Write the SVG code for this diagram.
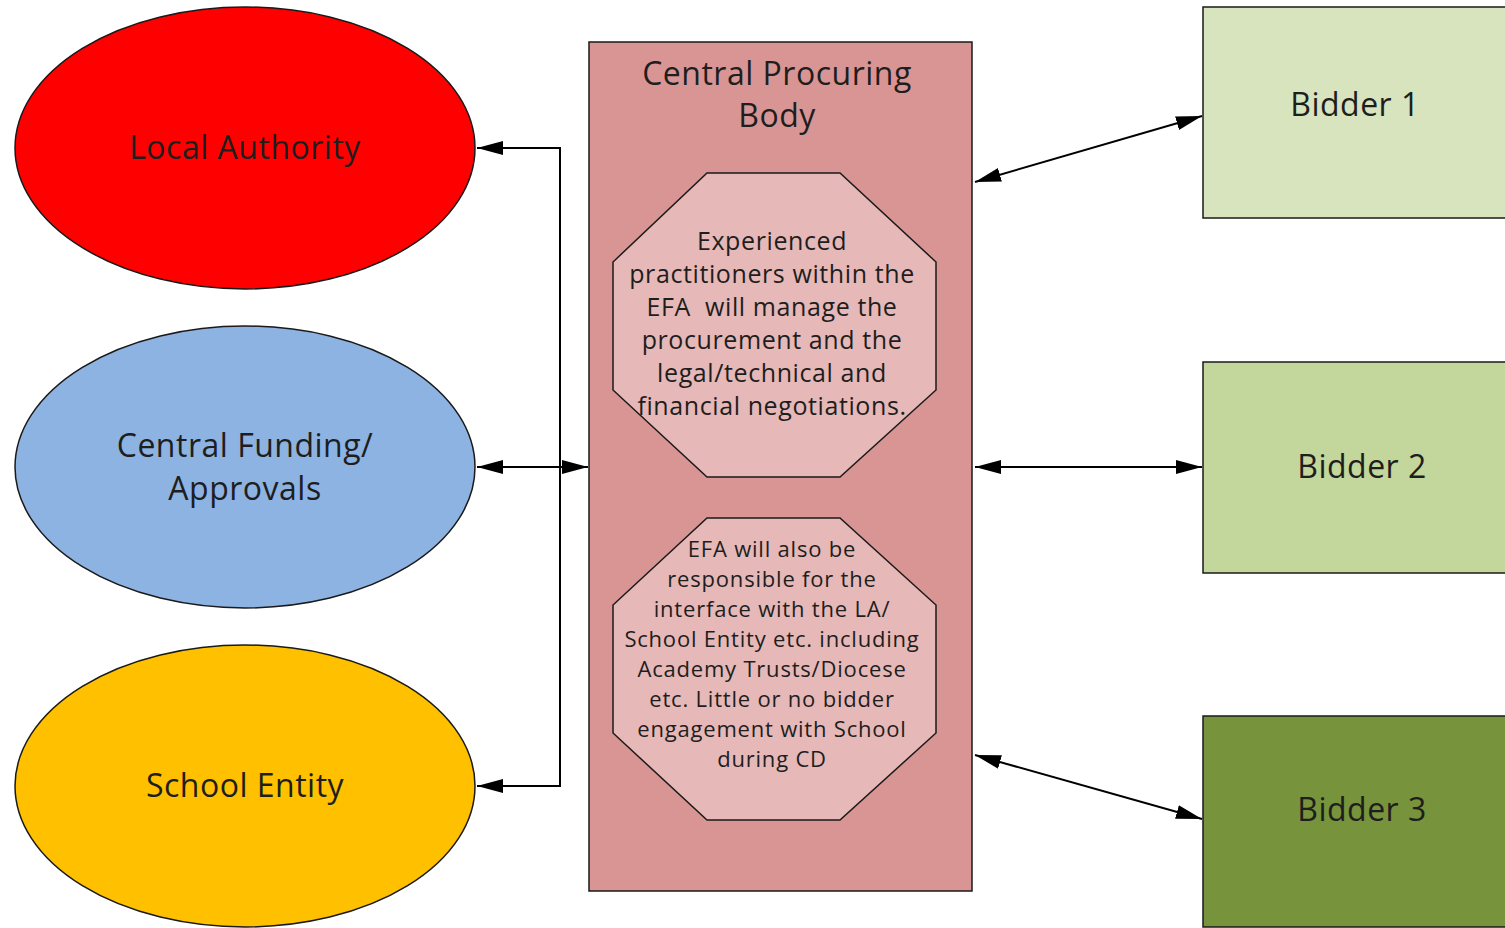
<svg xmlns="http://www.w3.org/2000/svg" width="1505" height="928" viewBox="0 0 1505 928">
<defs>
<marker id="ah" viewBox="0 0 10 10" refX="10" refY="5" markerWidth="26" markerHeight="14" markerUnits="userSpaceOnUse" orient="auto-start-reverse" preserveAspectRatio="none">
<path d="M0,0 L10,5 L0,10 Z" fill="#000"/>
</marker>
<style>
.t{font-family:"Open Sans","Liberation Sans",sans-serif;fill:#1e1e1e;text-anchor:middle}
.big{font-size:32px;letter-spacing:0.5px}
.o1{font-size:25px;letter-spacing:0.6px}
.o2{font-size:22px;letter-spacing:0.8px}
.sh{stroke:#1a1a1a;stroke-width:1.5}
.c{fill:none;stroke:#000;stroke-width:2}
</style>
</defs>
<rect width="1505" height="928" fill="#fff"/>
<g id="local-authority">
<ellipse class="sh" cx="245" cy="148" rx="230" ry="141" fill="#FF0000"/>
<text class="t big" x="245" y="159">Local Authority</text>
</g>
<g id="central-funding">
<ellipse class="sh" cx="245" cy="467" rx="230" ry="141" fill="#8DB3E2"/>
<text class="t big" x="245" y="457">Central Funding/</text>
<text class="t big" x="245" y="500">Approvals</text>
</g>
<g id="school-entity">
<ellipse class="sh" cx="245" cy="786" rx="230" ry="141" fill="#FFC000"/>
<text class="t big" x="245" y="797">School Entity</text>
</g>
<g id="central-procuring-body">
<rect class="sh" x="589" y="42" width="383" height="849" fill="#D99594"/>
<text class="t big" x="777" y="85">Central Procuring</text>
<text class="t big" x="777" y="127">Body</text>
</g>
<g id="octagon-1">
<polygon class="sh" points="707,173 840,173 936,262 936,390 840,477 707,477 613,390 613,262" fill="#E6B8B7"/>
<text class="t o1" x="772" y="250">Experienced</text>
<text class="t o1" x="772" y="283">practitioners within the</text>
<text class="t o1" x="772" y="316">EFA&#160; will manage the</text>
<text class="t o1" x="772" y="349">procurement and the</text>
<text class="t o1" x="772" y="382">legal/technical and</text>
<text class="t o1" x="772" y="415">financial negotiations.</text>
</g>
<g id="octagon-2">
<polygon class="sh" points="707,518 840,518 936,605 936,733 840,820 707,820 613,733 613,605" fill="#E6B8B7"/>
<text class="t o2" x="772" y="557">EFA will also be</text>
<text class="t o2" x="772" y="587">responsible for the</text>
<text class="t o2" x="772" y="617">interface with the LA/</text>
<text class="t o2" x="772" y="647">School Entity etc. including</text>
<text class="t o2" x="772" y="677">Academy Trusts/Diocese</text>
<text class="t o2" x="772" y="707">etc. Little or no bidder</text>
<text class="t o2" x="772" y="737">engagement with School</text>
<text class="t o2" x="772" y="767">during CD</text>
</g>
<g id="bidder-1">
<rect class="sh" x="1203" y="7" width="310" height="211" fill="#D7E4BD"/>
<text class="t big" x="1355" y="116">Bidder 1</text>
</g>
<g id="bidder-2">
<rect class="sh" x="1203" y="362" width="310" height="211" fill="#C3D69B"/>
<text class="t big" x="1362" y="478">Bidder 2</text>
</g>
<g id="bidder-3">
<rect class="sh" x="1203" y="716" width="310" height="211" fill="#77933C"/>
<text class="t big" x="1362" y="821">Bidder 3</text>
</g>
<g id="connectors">
<polyline class="c" points="477,148 560,148 560,786 477,786" marker-start="url(#ah)" marker-end="url(#ah)"/>
<line class="c" x1="477" y1="467" x2="588" y2="467" marker-start="url(#ah)" marker-end="url(#ah)"/>
<line class="c" x1="975" y1="182" x2="1202" y2="116" marker-start="url(#ah)" marker-end="url(#ah)"/>
<line class="c" x1="975" y1="467" x2="1202" y2="467" marker-start="url(#ah)" marker-end="url(#ah)"/>
<line class="c" x1="975" y1="755" x2="1202" y2="819" marker-start="url(#ah)" marker-end="url(#ah)"/>
</g>
</svg>
